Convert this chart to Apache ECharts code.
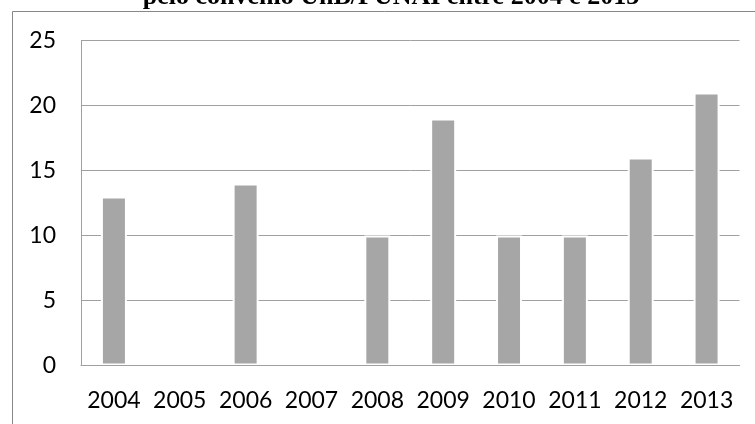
<!DOCTYPE html>
<html>
<head>
<meta charset="utf-8">
<script src="https://cdn.jsdelivr.net/npm/echarts@6/dist/echarts.min.js"></script>
<style>
  html, body { margin: 0; padding: 0; background: #fff; }
  #chart { width: 755px; height: 424px; }
</style>
</head>
<body>
<div id="chart"></div>
<script>
// Projetos por ano, convênio UnB/FUNAI
const years = ['2004', '2005', '2006', '2007', '2008', '2009', '2010', '2011', '2012', '2013'];
const counts = [13, 0, 14, 0, 10, 19, 10, 10, 16, 21];
const yTicks = { min: 0, max: 25, interval: 5 };
const titleText = 'pelo convênio UnB/FUNAI entre 2004 e 2013';

const chart = echarts.init(document.getElementById('chart'), null, { renderer: 'canvas' });

const labelFont = 'Lato, "Open Sans", sans-serif';

chart.setOption({
  animation: false,
  backgroundColor: '#fff',
  graphic: [
    {
      type: 'rect',
      shape: { x: 12.5, y: 11.5, width: 800, height: 500 },
      style: { fill: 'none', stroke: '#878787', lineWidth: 1 },
      z: 0
    },
    {
      type: 'text',
      x: 391,
      y: 10,
      style: {
        text: titleText,
        fill: '#000',
        font: 'bold 26px "Liberation Serif", "Times New Roman", serif',
        textAlign: 'center',
        textVerticalAlign: 'bottom'
      },
      z: 10
    }
  ],
  grid: { left: 81, right: 15.5, top: 40.5, bottom: 58.5, containLabel: false },
  xAxis: {
    type: 'category',
    data: years,
    z: 10,
    axisLine: { show: true, lineStyle: { color: '#a0a0a0', width: 1 } },
    axisTick: { show: false },
    axisLabel: { interval: 0, color: '#000', fontFamily: labelFont, fontSize: 23, margin: 24 },
    splitLine: { show: false }
  },
  yAxis: {
    type: 'value',
    min: yTicks.min,
    max: yTicks.max,
    interval: yTicks.interval,
    axisLine: { show: true, lineStyle: { color: '#a0a0a0', width: 1 } },
    axisTick: { show: false },
    axisLabel: { color: '#000', fontFamily: labelFont, fontSize: 23, margin: 25 },
    splitLine: { show: true, lineStyle: { color: '#a0a0a0', width: 1 } }
  },
  series: [
    {
      type: 'bar',
      data: counts,
      barWidth: 26,
      itemStyle: { color: '#a6a6a6', borderColor: '#ffffff', borderWidth: 2 }
    }
  ]
});
</script>
</body>
</html>
